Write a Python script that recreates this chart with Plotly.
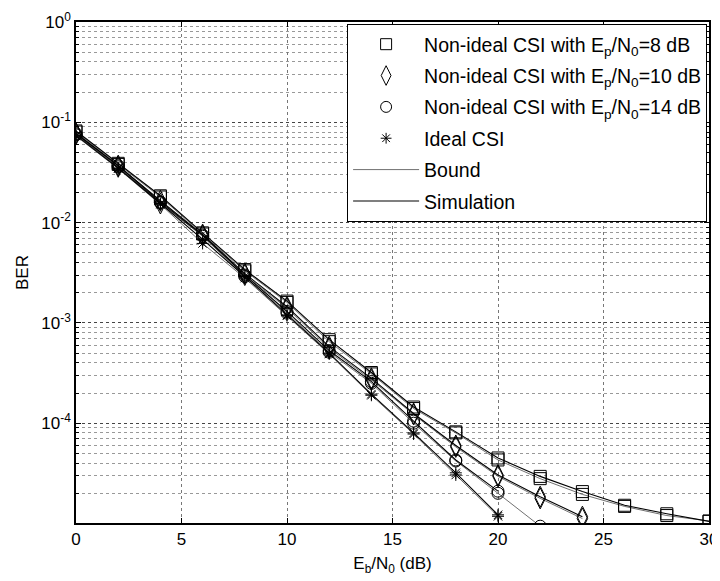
import plotly.graph_objects as go

# ---------------- data ----------------
ebn0 = [0, 2, 4, 6, 8, 10, 12, 14, 16, 18, 20, 22, 24, 26, 28, 30]

# Non-ideal CSI, Ep/N0 = 8 dB
sq_sim = [0.082, 0.039, 0.0185, 0.0079, 0.0034, 0.00165, 0.00068, 0.00032, 0.000145,
          8.2e-5, 4.5e-5, 2.95e-5, 2.08e-5, 1.52e-5, 1.25e-5, 1.05e-5]
sq_bound = [0.080, 0.038, 0.018, 0.0077, 0.0033, 0.0016, 0.00065, 0.00031, 0.00014,
            8.0e-5, 4.3e-5, 2.8e-5, 1.95e-5, 1.48e-5, 1.2e-5, 1.06e-5]

# Non-ideal CSI, Ep/N0 = 10 dB
di_sim = [0.078, 0.037, 0.0165, 0.0076, 0.0031, 0.00145, 0.00058, 0.00028, 0.000125,
          6.0e-5, 3.05e-5, 1.85e-5, 1.17e-5]
di_bound = [0.076, 0.036, 0.0155, 0.0074, 0.0030, 0.0014, 0.00056, 0.00027, 0.000122,
            5.8e-5, 2.95e-5, 1.78e-5, 1.12e-5]

# Non-ideal CSI, Ep/N0 = 14 dB
ci_sim = [0.077, 0.037, 0.016, 0.0075, 0.0030, 0.0013, 0.00053, 0.00026, 0.000105,
          4.3e-5, 2.1e-5]
ci_bound = [0.075, 0.036, 0.0158, 0.0073, 0.0029, 0.00125, 0.00051, 0.00025, 0.0001,
            4.2e-5, 2.0e-5, 9.4e-6]

# Ideal CSI
id_sim = [0.074, 0.035, 0.0155, 0.0068, 0.0029, 0.0012, 0.00050, 0.000195, 8.0e-5,
          3.2e-5, 1.22e-5]
id_bound = [0.073, 0.0345, 0.0152, 0.0062, 0.0028, 0.00118, 0.00049, 0.00019, 7.8e-5,
            3.05e-5, 1.18e-5]

legend_names = [
    "Non-ideal CSI with E<sub>p</sub>/N<sub>0</sub>=8 dB",
    "Non-ideal CSI with E<sub>p</sub>/N<sub>0</sub>=10 dB",
    "Non-ideal CSI with E<sub>p</sub>/N<sub>0</sub>=14 dB",
    "Ideal CSI",
]
line_names = ["Bound", "Simulation"]

x_ticks = [0, 5, 10, 15, 20, 25, 30]
y_ticks = [1, 1e-1, 1e-2, 1e-3, 1e-4]
y_ticktext = ["10<sup>0</sup>", "10<sup>-1</sup>", "10<sup>-2</sup>", "10<sup>-3</sup>", "10<sup>-4</sup>"]
y_minor = [m * 10.0 ** e for e in range(-5, 0) for m in range(2, 10)]

# ---------------- figure ----------------
FONT = "Liberation Sans, Arial, sans-serif"
symbols = ["square-open", "diamond-tall-open", "circle-open", "asterisk-open"]
sizes = [12, 15, 12, 10]
series = [(sq_bound, sq_sim), (di_bound, di_sim), (ci_bound, ci_sim), (id_bound, id_sim)]

fig = go.Figure()

for (bnd, sim), sym, sz in zip(series, symbols, sizes):
    marker = dict(symbol=sym, size=sz, color="black", line=dict(color="black", width=1))
    fig.add_trace(go.Scatter(x=ebn0[:len(bnd)], y=bnd, mode="lines+markers",
                             line=dict(color="#333333", width=0.7), marker=marker,
                             showlegend=False, hoverinfo="skip"))
    fig.add_trace(go.Scatter(x=ebn0[:len(sim)], y=sim, mode="lines+markers",
                             line=dict(color="black", width=1.1), marker=marker,
                             showlegend=False, hoverinfo="skip"))

# legend entries
for i, (name, sym, sz) in enumerate(zip(legend_names, symbols, sizes)):
    fig.add_trace(go.Scatter(x=[None], y=[None], mode="markers", name=name,
                             legendgroup=f"g{i}",
                             marker=dict(symbol=sym, size=sz - 1, color="black",
                                         line=dict(color="black", width=1))))
fig.add_trace(go.Scatter(x=[None], y=[None], mode="lines", name=line_names[0],
                         legendgroup="g4", line=dict(color="#333333", width=0.7)))
fig.add_trace(go.Scatter(x=[None], y=[None], mode="lines", name=line_names[1],
                         legendgroup="g5", line=dict(color="black", width=1.1)))

fig.update_layout(
    width=720, height=581,
    margin=dict(l=68, r=19, t=14, b=66),
    paper_bgcolor="white", plot_bgcolor="white",
    font=dict(family=FONT, size=17, color="black"),
    showlegend=True,
    legend=dict(
        x=0.997, y=0.996, xanchor="right", yanchor="top",
        bgcolor="white", bordercolor="black", borderwidth=1,
        font=dict(family=FONT, size=19.5, color="black"),
        itemwidth=66, tracegroupgap=3,
    ),
    xaxis=dict(
        range=[0, 30], tickvals=x_ticks, ticks="inside", ticklen=5,
        tickcolor="black", showline=True, linecolor="black", linewidth=1.5,
        mirror="ticks", showgrid=True, gridcolor="#777777", griddash="dot",
        gridwidth=1, zeroline=False, automargin=False,
        title=dict(text="E<sub>b</sub>/N<sub>0</sub> (dB)", standoff=9,
                   font=dict(family=FONT, size=17)),
        tickfont=dict(family=FONT, size=17),
    ),
    yaxis=dict(
        type="log", range=[-4.995, 0], tickmode="array", tickvals=y_ticks,
        ticktext=y_ticktext, ticks="inside", ticklen=5, tickcolor="black",
        showline=True, linecolor="black", linewidth=1.5, mirror="ticks",
        showgrid=True, gridcolor="#444444", griddash="dot", gridwidth=1,
        zeroline=False, automargin=False,
        minor=dict(tickmode="array", tickvals=y_minor, ticks="inside", ticklen=3,
                   tickcolor="black", showgrid=True, gridcolor="#999999",
                   griddash="dot", gridwidth=1),
        title=dict(text="BER", standoff=8, font=dict(family=FONT, size=17)),
        tickfont=dict(family=FONT, size=17),
    ),
)

fig.write_html("out.html")
